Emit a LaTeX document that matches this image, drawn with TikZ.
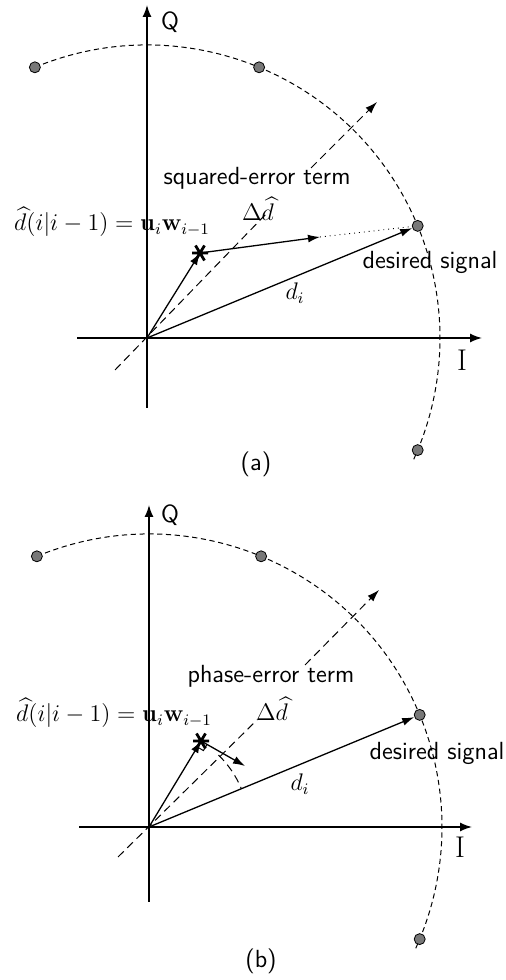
\documentclass[tikz,border=0pt]{standalone}
\usepackage{amsmath,amssymb}
\usepackage{xcolor}
\usepackage{tikz}
\usetikzlibrary{arrows.meta,calc}
\definecolor{dotgrey}{RGB}{120,120,120}
\tikzset{
  axis/.style ={-{Latex[length=6pt,width=4.5pt]}, line width=0.75pt},
  vec/.style  ={-{Latex[length=6pt,width=4pt]}, line width=0.65pt},
  guide/.style={dash pattern=on 4pt off 2.5pt, line width=0.5pt},
  ring/.style ={dash pattern=on 2.6pt off 1.8pt, line width=0.5pt},
  sym/.style  ={circle, draw, fill=dotgrey, inner sep=0pt, minimum size=5.5pt, line width=0.4pt},
  txt/.style  ={font=\sffamily\fontsize{12.4}{15}\selectfont, inner sep=0pt},
  mth/.style  ={font=\fontsize{12}{14}\selectfont, inner sep=0pt},
  big/.style  ={font=\fontsize{15}{18}\selectfont, inner sep=0pt},
}
\newcommand{\starmark}[1]{\draw[line width=1.4pt,shift={(#1)}] (-8,0) -- (8,0) (-4.5,7.5) -- (4.5,-7.5) (-4.5,-7.5) -- (4.5,7.5);}

\begin{document}
\begin{tikzpicture}[x=0.5pt,y=0.5pt]
\useasboundingbox (0,0) rectangle (505,980);

% ---- panel (a): squared-error term
\begin{scope}[shift={(147,642)}]
\coordinate (ao) at (0,0);
% axes
\coordinate (aqb) at (0,-70); \coordinate (aqt) at (0,333);
\draw[axis] (aqb) -- (aqt);
\node[txt] (aq) at (23,316) {Q};
\coordinate (aib) at (-70,0); \coordinate (ait) at (335,0);
\draw[axis] (aib) -- (ait);
\node[big] (ai) at (315,-22) {I};
% constellation
\draw[ring] (112.5:293) arc[start angle=112.5,end angle=-25,radius=293];
\foreach \ang/\nm in {112.5/a4,67.5/a3,22.5/a1,-22.5/a2}
  \node[sym] (\nm) at (\ang:293) {};
% error direction
\coordinate (alo) at (-32,-32); \coordinate (alm) at (120,125);
\coordinate (aum) at (164,170); \coordinate (aup) at (230,236);
\draw[guide] (alo) -- (alm);
\draw[guide,-{Latex[length=6pt,width=4pt]}] (aum) -- (aup);
\node[txt] (aterm) at (110,160) {squared-error term};
\node[mth] (adel) at (111,129) {$\Delta\widehat{d}$};
% vectors
\coordinate (as) at (53,85); \coordinate (ae) at (173,101);
\draw[vec] (ao) -- (as);
\draw[vec] (as) -- (ae);
\draw[dotted,line width=0.45pt] (ae) -- (a1);
\draw[vec] (ao) -- (a1);
\starmark{as}
\node[mth] (aest) at (-35,116) {$\widehat{d}(i|i-1)=\mathbf{u}_i\mathbf{w}_{i-1}$};
\node[txt] (ads) at (283,76) {desired signal};
\node[mth] (adi) at (148,45) {$d_i$};
\node[txt] (acap) at (109,-126) {(a)};
\end{scope}

% ---- panel (b): phase-error term
\begin{scope}[shift={(149,153)}]
\coordinate (bo) at (0,0);
% axes
\coordinate (bqb) at (0,-75); \coordinate (bqt) at (0,322);
\draw[axis] (bqb) -- (bqt);
\node[txt] (bq) at (21,312) {Q};
\coordinate (bib) at (-70,0); \coordinate (bit) at (323,0);
\draw[axis] (bib) -- (bit);
\node[big] (bi) at (311,-20) {I};
% constellation
\draw[ring] (112.5:293) arc[start angle=112.5,end angle=-25,radius=293];
\foreach \ang/\nm in {112.5/b4,67.5/b3,22.5/b1,-22.5/b2}
  \node[sym] (\nm) at (\ang:293) {};
% error direction
\coordinate (blo) at (-31,-30); \coordinate (blm) at (108,107);
\coordinate (bum) at (156,162); \coordinate (bup) at (230,237);
\draw[guide] (blo) -- (blm);
\draw[guide,-{Latex[length=6pt,width=4pt]}] (bum) -- (bup);
\node[txt] (bterm) at (122,151) {phase-error term};
\node[mth] (bdel) at (123,118) {$\Delta\widehat{d}$};
% angle between estimate and target
\draw[guide] (46:100) arc[start angle=46,end angle=22.5,radius=100];
% vectors
\coordinate (bs) at (52,86); \coordinate (be) at (96,61);
\draw[vec] (bo) -- (bs);
\draw[vec] (bs) -- (be);
\draw[line width=0.5pt] (bs) ++(-3.6,-6) -- ++(6,-3.6) -- ++(3.6,6);
\draw[vec] (bo) -- (b1);
\starmark{bs}
\node[mth] (best) at (-35,114) {$\widehat{d}(i|i-1)=\mathbf{u}_i\mathbf{w}_{i-1}$};
\node[txt] (bds) at (288,74) {desired signal};
\node[mth] (bdi) at (151,43) {$d_i$};
\node[txt] (bcap) at (112,-134) {(b)};
\end{scope}
\end{tikzpicture}
\end{document}
